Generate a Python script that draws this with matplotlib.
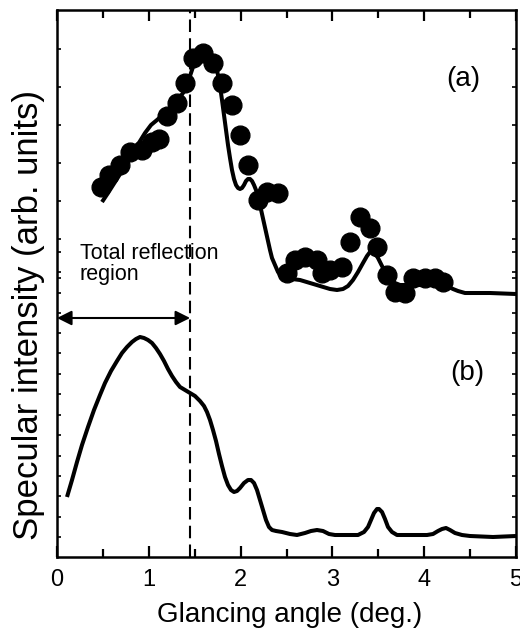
import matplotlib
matplotlib.use("Agg")
import matplotlib.pyplot as plt
import numpy as np

plt.rcParams['font.family'] = ['Liberation Sans', 'DejaVu Sans']

# ---- data (x in degrees, y in arbitrary units) ----
dots_a_x = [0.48, 0.57, 0.69, 0.80, 0.93, 1.03, 1.11, 1.20, 1.31, 1.39, 1.48, 1.59,
            1.70, 1.80, 1.91, 1.99, 2.08, 2.19, 2.29, 2.41, 2.51, 2.59, 2.70, 2.83,
            2.89, 2.97, 3.10, 3.19, 3.30, 3.41, 3.49, 3.59, 3.68, 3.79, 3.88, 4.01,
            4.12, 4.20]
dots_a_y = [370, 382, 392, 405, 407, 415, 418, 441, 454, 474, 499, 504,
            494, 474, 452, 422, 392, 357, 365, 364, 284, 297, 300, 297,
            284, 287, 290, 315, 340, 329, 310, 282, 265, 264, 279, 279,
            279, 275]

# calculated curve (a), read in picture pixels
calc_a_px = [102, 108, 115, 122, 130, 137, 145, 151, 157, 164, 170, 177, 183, 187,
             190, 193, 196, 199, 203, 207, 211, 214, 216, 218, 220, 222, 224, 226,
             228, 230, 232, 234, 236, 238, 240, 242, 244, 246, 248, 250, 252, 254,
             256, 258, 260, 262, 264, 266, 268, 270, 272, 275, 278, 281, 285, 292,
             300, 310, 320, 330, 337, 343, 348, 353, 358, 363, 367, 370, 372, 375,
             378, 382, 386, 390, 395, 400, 410, 420, 430, 440, 447, 453, 458, 465,
             490, 516]
calc_a_py = [202, 193, 182, 171, 158, 146, 133, 125, 120, 114, 108, 101, 93, 85,
             76, 67, 60, 55, 52, 51, 54, 59, 66, 75, 86, 100, 115, 130,
             145, 158, 170, 179, 185, 188, 189, 188, 185, 181, 179, 179, 181, 185,
             190, 197, 205, 214, 223, 232, 241, 250, 258, 265, 272, 276, 278, 279,
             280, 283, 286, 289, 290, 289, 286, 280, 272, 263, 256, 252, 251, 253,
             258, 266, 273, 279, 283, 285, 285, 285, 285, 285, 286, 289, 291, 293,
             293, 294]

# calculated curve (b), read in picture pixels
calc_b_px = [67, 72, 77, 82, 88, 94, 100, 105, 111, 117, 122, 127, 132, 136, 140,
             144, 148, 152, 156, 160, 164, 168, 172, 176, 180, 185, 190, 195, 200,
             204, 207, 210, 213, 216, 219, 222, 225, 228, 231, 234, 237, 240, 244,
             248, 251, 254, 257, 260, 263, 266, 269, 272, 276, 282, 290, 297, 305,
             311, 317, 323, 329, 335, 345, 358, 364, 368, 371, 374, 377, 379, 382,
             385, 388, 392, 397, 405, 427, 433, 438, 442, 446, 450, 455, 462, 470,
             493, 516]
calc_b_py = [497, 480, 462, 445, 427, 410, 395, 383, 371, 361, 353, 347, 342, 339, 337,
             338, 340, 343, 348, 354, 361, 369, 376, 382, 387, 390, 393, 396, 401,
             406, 412, 420, 430, 441, 454, 466, 477, 485, 490, 492, 491, 488, 483,
             480, 480, 483, 490, 500, 510, 520, 527, 530, 531, 532, 534, 535, 533,
             531, 530, 531, 534, 535, 535, 535, 532, 527, 520, 513, 509, 509, 512,
             519, 527, 532, 535, 535, 535, 534, 531, 529, 528, 530, 533, 535, 536,
             537, 536]

calc_a_x = [(p - 57) / 91.8 for p in calc_a_px]
calc_a_y = [557 - p for p in calc_a_py]
calc_b_x = [(p - 57) / 91.8 for p in calc_b_px]
calc_b_y = [557 - p for p in calc_b_py]

x_ticks = [0, 1, 2, 3, 4, 5]
x_tick_labels = ['0', '1', '2', '3', '4', '5']
critical_angle = 1.45

# ---- figure ----
fig = plt.figure(figsize=(5.2, 6.32), dpi=100)
ax = fig.add_axes([57/520, 1 - 557/632, 459/520, 547/632])

ax.plot(calc_a_x, calc_a_y, color='black', lw=2.9, solid_capstyle='butt',
        solid_joinstyle='round', zorder=3)
ax.plot(dots_a_x, dots_a_y, 'o', color='black', ms=13.5, mec='black', zorder=4)
ax.plot(calc_b_x, calc_b_y, color='black', lw=2.9, solid_capstyle='butt',
        solid_joinstyle='round', zorder=3)

ax.axvline(critical_angle, color='black', lw=1.5, ls=(0, (6, 3)), zorder=2)

ax.annotate('', xy=(0, 239), xytext=(critical_angle, 239),
            arrowprops=dict(arrowstyle='<|-|>', color='black', lw=1.5,
                            mutation_scale=22, shrinkA=0, shrinkB=0))
ax.text(0.25, 293, 'Total reflection\nregion', fontsize=15.5, ha='left', va='center',
        linespacing=1.05)

ax.text(4.43, 478, '(a)', fontsize=20, ha='center', va='center')
ax.text(4.47, 184, '(b)', fontsize=20, ha='center', va='center')

ax.set_xlim(0, 5)
ax.set_ylim(0, 547)
ax.set_xticks(x_ticks)
ax.set_xticklabels(x_tick_labels)
ax.set_xticks(np.arange(0.5, 5, 1.0), minor=True)

ytick_px = [49, 87, 125, 163, 201, 239, 252, 272, 278, 293, 313, 333, 353, 374,
            394, 415, 435, 456, 476, 496, 517, 537]
ax.set_yticks([557 - p for p in ytick_px])
ax.set_yticklabels([])

ax.tick_params(axis='x', which='major', direction='in', length=8, width=1.6,
               top=True, labelsize=17, pad=9)
ax.tick_params(axis='x', which='minor', direction='in', length=6, width=1.6, top=True)
ax.tick_params(axis='y', which='major', direction='in', length=3, width=1.2,
               right=True, left=True)

for s in ax.spines.values():
    s.set_linewidth(1.8)

ax.set_xlabel('Glancing angle (deg.)', fontsize=20, labelpad=8)
ax.xaxis.set_label_coords(0.507, -0.083)
ax.set_ylabel('Specular intensity (arb. units)', fontsize=25)
ax.yaxis.set_label_coords(-0.026, 0.443)

fig.savefig('out.png', dpi=100)
